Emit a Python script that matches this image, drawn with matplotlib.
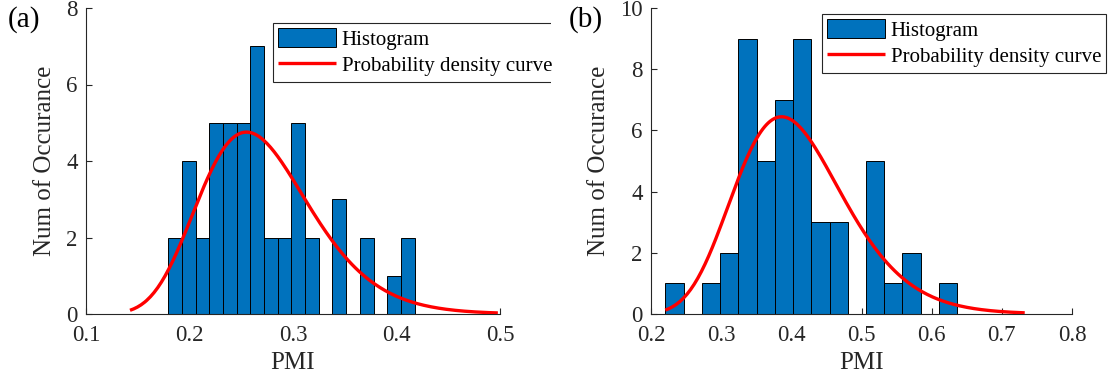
import numpy as np
import matplotlib
matplotlib.use("Agg")
import matplotlib.pyplot as plt
from matplotlib.transforms import Bbox

plt.rcParams['font.family'] = ['Liberation Serif', 'DejaVu Serif']
plt.rcParams['mathtext.fontset'] = 'stix'

# ---------------- data ----------------
# panel (a)
counts_a = [2, 4, 2, 5, 5, 5, 7, 2, 2, 5, 2, 0, 3, 0, 2, 0, 1, 2]
edge0_a = 0.1795
binw_a = 0.01322
mu_a, sigma_a = -1.3228, 0.2085          # lognormal fit parameters
xticks_a = [0.1, 0.2, 0.3, 0.4, 0.5]
yticks_a = [0, 2, 4, 6, 8]

# panel (b)
counts_b = [1, 0, 1, 2, 9, 5, 7, 9, 3, 3, 0, 5, 1, 2, 0, 1]
edge0_b = 0.2204
binw_b = 0.026
mu_b, sigma_b = -0.9117, 0.2002
xticks_b = [0.2, 0.3, 0.4, 0.5, 0.6, 0.7, 0.8]
yticks_b = [0, 2, 4, 6, 8, 10]

panel_labels = ['(a)', '(b)']
legend_labels = ['Histogram', 'Probability density curve']
xlabel = 'PMI'
ylabel = 'Num of Occurance'

BAR_COLOR = '#0072BD'
AX_COLOR = '#262626'

W, H = 1115, 385
fig = plt.figure(figsize=(W / 100, H / 100), dpi=100)


def px_axes(l, t, r, b):
    return fig.add_axes([l / W, 1 - b / H, (r - l) / W, (b - t) / H])


def lognorm_pdf(x, mu, s):
    return np.exp(-(np.log(x) - mu) ** 2 / (2 * s ** 2)) / (x * s * np.sqrt(2 * np.pi))


def draw(ax, counts, edge0, bw, mu, s, xticks, yticks, leg_box, tag, tag_xy, clip_right=None):
    counts = np.asarray(counts, dtype=float)
    lefts = edge0 + bw * np.arange(len(counts))
    bars = ax.bar(lefts, counts, width=bw, align='edge', color=BAR_COLOR,
                  edgecolor='black', linewidth=0.7, label=legend_labels[0], zorder=2)
    n = counts.sum()
    x = np.linspace(np.exp(mu - 3 * s), np.exp(mu + 3 * s), 200)
    y = n * bw * lognorm_pdf(x, mu, s)
    line, = ax.plot(x, y, color='#FF0000', lw=2.4, label=legend_labels[1], zorder=3,
                    solid_capstyle='butt')
    ax.set_xlim(xticks[0], xticks[-1])
    ax.set_ylim(yticks[0], yticks[-1])
    ax.set_xticks(xticks)
    ax.set_yticks(yticks)
    ax.set_xticklabels([f'{t:g}' for t in xticks])
    ax.set_yticklabels([f'{t:g}' for t in yticks])
    for sp in ['top', 'right']:
        ax.spines[sp].set_visible(False)
    for sp in ['left', 'bottom']:
        ax.spines[sp].set_color(AX_COLOR)
        ax.spines[sp].set_linewidth(0.8)
    ax.tick_params(direction='in', length=4, width=0.8, colors=AX_COLOR,
                   labelsize=16.5, labelcolor='#262626')
    ax.tick_params(axis='x', pad=8)
    ax.tick_params(axis='y', pad=6)
    ax.set_xlabel(xlabel, fontsize=18, color='#262626', labelpad=4)
    ax.set_ylabel(ylabel, fontsize=18, color='#262626', labelpad=7)
    l, t = leg_box
    leg = fig.legend(handles=[bars, line], labels=legend_labels,
                     loc='upper left', bbox_to_anchor=(l / W, 1 - t / H),
                     bbox_transform=fig.transFigure, fontsize=15,
                     frameon=True, fancybox=False, framealpha=1,
                     edgecolor='#262626', borderpad=0.25, borderaxespad=0,
                     handlelength=2.75, handleheight=1.0, handletextpad=0.3,
                     labelspacing=0.25)
    leg.get_frame().set_linewidth(0.8)
    if clip_right is not None:
        frame = leg.get_frame()
        frame.set_clip_on(True)
        frame.set_clip_box(Bbox([[0, 0], [clip_right, H]]))
    fig.text(tag_xy[0] / W, 1 - tag_xy[1] / H, tag, fontsize=21,
             ha='left', va='center', color='black')
    return ax


ax1 = px_axes(86, 8, 500, 314)
draw(ax1, counts_a, edge0_a, binw_a, mu_a, sigma_a, xticks_a, yticks_a,
     (273, 23), panel_labels[0], (8, 20), clip_right=551)

ax2 = px_axes(651, 8, 1072, 314)
draw(ax2, counts_b, edge0_b, binw_b, mu_b, sigma_b, xticks_b, yticks_b,
     (822, 14), panel_labels[1], (569, 20))

fig.savefig('out.png', dpi=100)
